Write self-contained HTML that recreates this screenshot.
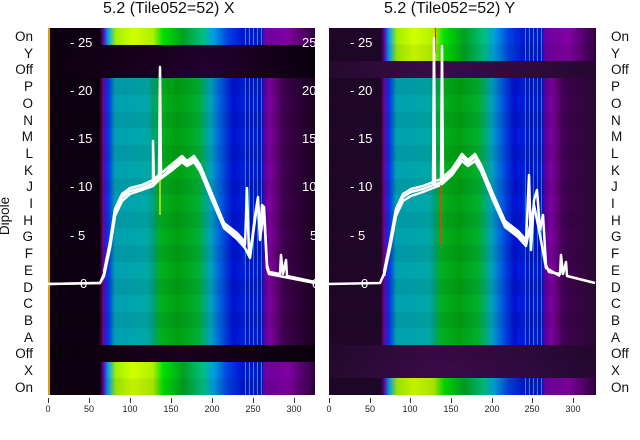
<!DOCTYPE html><html><head><meta charset="utf-8"><style>
body{margin:0;width:640px;height:440px;background:#fff;position:relative;overflow:hidden;font-family:"Liberation Sans","DejaVu Sans",sans-serif}
.p{position:absolute;top:28px;width:267px;height:367px;overflow:hidden}
.b{position:absolute;left:0;width:267px}
.t{position:absolute;font-size:16px;color:#111;top:0;}
.lab{position:absolute;font-size:13.5px;color:#111;line-height:16px}
.xt{position:absolute;font-size:9px;color:#222;top:404px;transform:translateX(-50%)}
.tk{position:absolute;top:398px;width:1px;height:5px;background:#333}
.w{position:absolute;color:#fff;font-size:13px;line-height:14px}
</style></head><body>
<div class="t" style="left:103px">5.2 (Tile052=52) X</div>
<div class="t" style="left:384px">5.2 (Tile052=52) Y</div>

<!-- left panel -->
<div class="p" style="left:48px">
<div class="b" style="top:0;height:17px;background:linear-gradient(90deg,#0e0012 0,#0e0012 52px,#6000a0 55px,#00a0f0 60px,#a0f000 68px,#d0ff00 85px,#b0f000 105px,#00e000 115px,#00a020 135px,#00c080 155px,#00a0e0 165px,#0040e0 180px,#0010d0 197px,#7000a0 218px,#8000a0 240px,#300040 267px)"></div>
<div class="b" style="top:17px;height:33px;background:linear-gradient(90deg,#0d000f,#1a0020 40%,#240030 60%,#0a000c)"></div>
<div class="b" style="top:50px;height:267px;background:linear-gradient(90deg,#0e0012 0,#0e0012 52px,#7a0090 55px,#2020e0 58px,#0040e0 61px,#00a0b0 67px,#00a8a8 100px,#00a070 106px,#00b020 112px,#00a010 130px,#00b030 150px,#00a0c0 163px,#0060e0 172px,#0010d0 185px,#0020e0 197px,#5000a0 215px,#8000a0 222px,#400050 235px,#1a0020 267px)"></div>
<div class="b" style="top:317px;height:17px;background:linear-gradient(90deg,#0a000a,#1a0020 50%,#0a000c)"></div>
<div class="b" style="top:334px;height:33px;background:linear-gradient(90deg,#0e0012 0,#0e0012 52px,#6000a0 55px,#00a0f0 60px,#a0f000 68px,#d0ff00 85px,#b0f000 105px,#00e000 115px,#00a020 135px,#00c080 155px,#00a0e0 165px,#0040e0 180px,#0010d0 197px,#7000a0 218px,#8000a0 240px,#300040 267px)"></div>
<div style="position:absolute;left:197px;top:0;width:18px;height:17px;background:repeating-linear-gradient(90deg,#00a0e0 0 1px,#0010d0 1px 4px)"></div>
<div style="position:absolute;left:197px;top:50px;width:18px;height:267px;background:repeating-linear-gradient(90deg,#0090e0 0 1px,#0010d0 1px 4px)"></div>
<div style="position:absolute;left:197px;top:334px;width:18px;height:33px;background:repeating-linear-gradient(90deg,#00a0e0 0 1px,#0010d0 1px 4px)"></div>
<div style="position:absolute;left:0;top:0;width:267px;height:367px;background:repeating-linear-gradient(180deg,rgba(0,0,0,0) 0 16.7px,rgba(0,0,0,.06) 16.7px 33.4px)"></div>
<div style="position:absolute;left:0;top:0;width:2px;height:367px;background:#e0a000"></div>
</div>

<!-- right panel -->
<div class="p" style="left:329px">
<div class="b" style="top:0;height:33px;background:linear-gradient(90deg,#200628 0,#200628 52px,#6000a0 55px,#00a0f0 60px,#a0f000 68px,#d0ff00 85px,#b0f000 105px,#00e000 115px,#00a020 135px,#00c080 155px,#00a0e0 165px,#0040e0 180px,#0010d0 197px,#7000a0 218px,#8000a0 240px,#300040 267px)"></div>
<div class="b" style="top:33px;height:17px;background:linear-gradient(90deg,#250a2e,#3a0a48 40%,#300a40 70%,#250830)"></div>
<div class="b" style="top:50px;height:267px;background:linear-gradient(90deg,#200628 0,#200628 52px,#7a0090 55px,#2020e0 58px,#0040e0 61px,#00a0b0 67px,#00a8a8 100px,#00a070 106px,#00b020 112px,#00a010 130px,#00b030 150px,#00a0c0 163px,#0060e0 172px,#0010d0 185px,#0020e0 197px,#5000a0 215px,#8000a0 222px,#400050 235px,#2a0835 267px)"></div>
<div class="b" style="top:317px;height:33px;background:linear-gradient(90deg,#250a2e,#3a0a48 40%,#300a40 70%,#250830)"></div>
<div class="b" style="top:350px;height:17px;background:linear-gradient(90deg,#200628 0,#200628 52px,#6000a0 55px,#00a0f0 60px,#a0f000 68px,#d0ff00 85px,#b0f000 105px,#00e000 115px,#00a020 135px,#00c080 155px,#00a0e0 165px,#0040e0 180px,#0010d0 197px,#7000a0 218px,#8000a0 240px,#300040 267px)"></div>
<div style="position:absolute;left:196px;top:0;width:18px;height:33px;background:repeating-linear-gradient(90deg,#00a0e0 0 1px,#0010d0 1px 4px)"></div>
<div style="position:absolute;left:196px;top:50px;width:18px;height:267px;background:repeating-linear-gradient(90deg,#0090e0 0 1px,#0010d0 1px 4px)"></div>
<div style="position:absolute;left:196px;top:350px;width:18px;height:17px;background:repeating-linear-gradient(90deg,#00a0e0 0 1px,#0010d0 1px 4px)"></div>
<div style="position:absolute;left:0;top:0;width:267px;height:367px;background:repeating-linear-gradient(180deg,rgba(0,0,0,0) 0 16.7px,rgba(0,0,0,.06) 16.7px 33.4px)"></div>
<div style="position:absolute;left:106px;top:0;width:1px;height:25px;background:#f02000"></div>
</div>

<svg width="640" height="440" style="position:absolute;left:0;top:0">
<g fill="none" stroke="#fff" stroke-width="2.5" stroke-linejoin="round">
<polyline points="48,284 100,283 104,274 110,245 115,212 122,197 130,191 142,188 153,183 153,141 154,183 155,182 159,178 160,67 161,178 171,168 182,159 187,164 194,159 200,168 212,197 224,226 237,236 245,245 247,188 249,255 252,240 255,216 258,197 260,236 262,205 264,207 267,265 269,272 280,274 281,255 283,274 286,260 287,276 315,282"/>
<polyline points="48,284 100,283 104,276 110,248 115,216 122,201 130,194 142,190 153,186 159,180 171,171 182,162 187,166 194,162 200,171 212,200 224,228 237,239 245,248 250,258 255,220 258,200 260,240 264,210 267,268 269,274 315,283"/>
<polyline points="104,272 110,242 115,209 122,194 130,188 142,185 153,180 159,175 171,165 182,156 187,161 194,156 200,165 212,194 224,223 237,233 245,242"/>
<polyline points="329,284 380,283 384,274 390,245 396,212 403,197 411,192 423,189 433,185 434,38 435,185 441,182 442,46 443,181 452,172 462,157 468,163 475,157 481,168 493,197 505,224 518,234 526,242 529,175 531,250 534,200 537,190 540,230 543,215 546,265 549,272 560,274 561,255 563,274 566,262 567,276 595,283"/>
<polyline points="384,276 390,248 396,216 403,201 411,196 423,192 433,188 441,185 452,175 462,161 468,166 475,161 481,171 493,200 505,227 518,237 526,246 534,205 540,235 546,268 560,276"/>
<polyline points="384,272 390,242 396,209 403,194 411,189 423,186 433,182 441,179 452,169 462,154 468,160 475,154 481,165 493,194 505,221 518,231 526,240"/>
</g>
<line x1="160" y1="180" x2="160" y2="215" stroke="#e0e000" stroke-width="1.5"/>
<line x1="441" y1="185" x2="441" y2="245" stroke="#f04000" stroke-width="1.5"/>
</svg>

<div class="w" style="left:70px;top:36px">- 25</div><div class="w" style="left:70px;top:84px">- 20</div><div class="w" style="left:70px;top:132px">- 15</div><div class="w" style="left:70px;top:180px">- 10</div><div class="w" style="left:70px;top:229px">- 5</div><div class="w" style="left:80px;top:277px">0</div>
<div style="position:absolute;left:300px;top:28px;width:15px;height:367px;overflow:hidden">
<div class="w" style="left:2px;top:8px">25</div><div class="w" style="left:2px;top:56px">20</div><div class="w" style="left:2px;top:104px">15</div><div class="w" style="left:2px;top:152px">10</div><div class="w" style="left:10px;top:201px">5</div><div class="w" style="left:12px;top:249px">0</div></div>
<div class="w" style="left:350px;top:36px">- 25</div><div class="w" style="left:350px;top:84px">- 20</div><div class="w" style="left:350px;top:132px">- 15</div><div class="w" style="left:350px;top:180px">- 10</div><div class="w" style="left:350px;top:229px">- 5</div><div class="w" style="left:361px;top:277px">0</div>

<div class="lab" style="left:0;top:29px;width:33px;text-align:right;line-height:16.7px">On<br>Y<br>Off<br>P<br>O<br>N<br>M<br>L<br>K<br>J<br>I<br>H<br>G<br>F<br>E<br>D<br>C<br>B<br>A<br>Off<br>X<br>On</div>
<div class="lab" style="left:611px;top:29px;line-height:16.7px">On<br>Y<br>Off<br>P<br>O<br>N<br>M<br>L<br>K<br>J<br>I<br>H<br>G<br>F<br>E<br>D<br>C<br>B<br>A<br>Off<br>X<br>On</div>
<div class="lab" style="left:-14px;top:208px;transform:rotate(-90deg)">Dipole</div>

<div class="tk" style="left:48px"></div><div class="xt" style="left:48px">0</div>
<div class="tk" style="left:89px"></div><div class="xt" style="left:89px">50</div>
<div class="tk" style="left:130px"></div><div class="xt" style="left:130px">100</div>
<div class="tk" style="left:171px"></div><div class="xt" style="left:171px">150</div>
<div class="tk" style="left:212px"></div><div class="xt" style="left:212px">200</div>
<div class="tk" style="left:253px"></div><div class="xt" style="left:253px">250</div>
<div class="tk" style="left:294px"></div><div class="xt" style="left:294px">300</div>
<div class="tk" style="left:329px"></div><div class="xt" style="left:329px">0</div>
<div class="tk" style="left:370px"></div><div class="xt" style="left:370px">50</div>
<div class="tk" style="left:410px"></div><div class="xt" style="left:410px">100</div>
<div class="tk" style="left:451px"></div><div class="xt" style="left:451px">150</div>
<div class="tk" style="left:492px"></div><div class="xt" style="left:492px">200</div>
<div class="tk" style="left:532px"></div><div class="xt" style="left:532px">250</div>
<div class="tk" style="left:573px"></div><div class="xt" style="left:573px">300</div>
</body></html>
